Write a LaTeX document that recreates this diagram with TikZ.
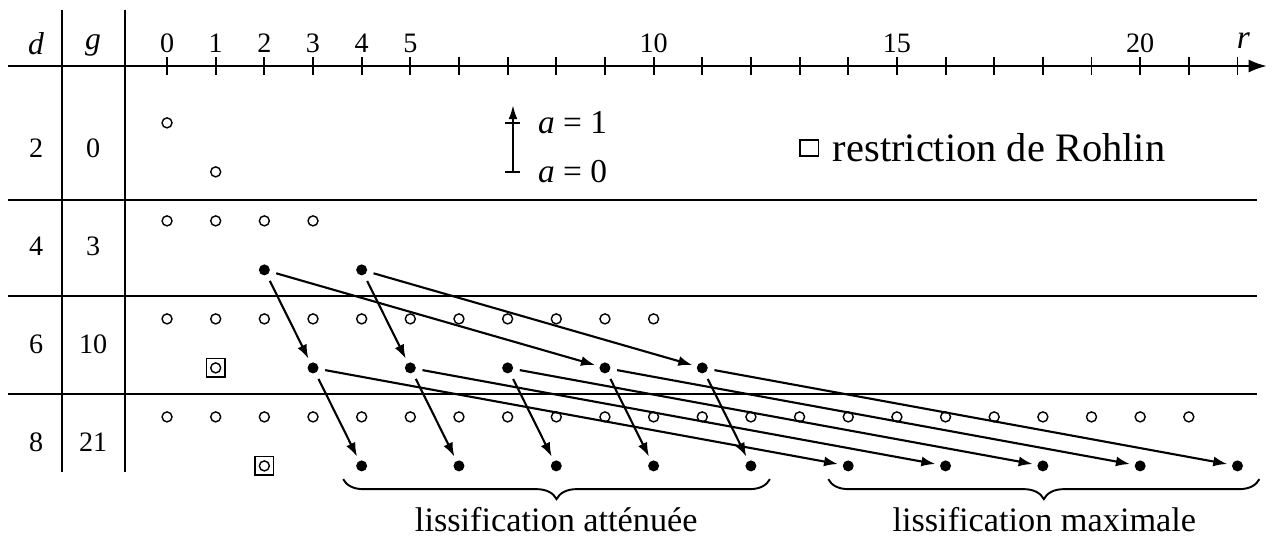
\documentclass[tikz,border=0pt]{standalone}
\usepackage{fontspec}
\setmainfont{Liberation Serif}
\usetikzlibrary{arrows.meta,positioning,decorations.pathreplacing}
\tikzset{
  odot/.style={circle, draw, line width=0.8pt, minimum size=0.2cm, inner sep=0pt},
  fdot/.style={circle, fill, minimum size=0.22cm, inner sep=0pt},
  rbox/.style={rectangle, draw, line width=0.8pt, minimum size=0.37cm, inner sep=0pt},
  rarrow/.style={-{Latex[length=2.8mm,width=2mm]}, line width=1.2pt, shorten <=0.13cm, shorten >=0.09cm},
  rline/.style={line width=1.1pt},
  rlabel/.style={font=\fontsize{16}{18}\selectfont},
  rbrace/.style={decorate, decoration={brace, mirror, amplitude=0.4cm}, line width=1.1pt},
  rtext/.style={font=\fontsize{19.5}{22}\selectfont, anchor=base, inner sep=0pt}
}

\begin{document}
\begin{tikzpicture}[x=0.973cm, y=0.98cm]
\useasboundingbox (-3.433,1.347) rectangle (22.73,-9.673);
% table frame
\draw[rline] (-2.158,1.143) -- (-2.158,-8.286);
\draw[rline] (-0.863,1.143) -- (-0.863,-8.286);
\foreach \y in {-2.73,-4.69,-6.69}
  \draw[rline] (-3.27,\y) -- (22.4,\y);
% axis r
\draw[rline, -{Latex[length=3.6mm,width=2.6mm]}] (-3.27,0) -- (22.6,0);
\foreach \r in {0,...,22}
  \draw[rline] (\r,0.18) -- (\r,-0.18);
\foreach \r in {0,1,2,3,4,5,10,15,20}
  \node[rlabel] (t\r) at (\r,0.47) {\r};
\node[font=\fontsize{19}{21}\selectfont] (rr) at (22.12,0.52) {\textit{r}};
\node[font=\fontsize{18}{20}\selectfont] (hd) at (-2.69,0.45) {\textit{d}};
\node[font=\fontsize{18}{20}\selectfont] (hg) at (-1.52,0.42) {\textit{g}};
% rows d / g
\foreach \d/\g in {2/0,4/3,6/10,8/21}{
  \node[rlabel] (d\d) at (-2.69,{0.33-\d}) {\d};
  \node[rlabel] (g\d) at (-1.52,{0.33-\d}) {\g};
}
% open circles
\node[odot] (c2-0) at (0,-1.16) {};
\node[odot] (c2-1x) at (1,-2.16) {};
\foreach \d/\m in {4/3,6/10,8/21}
  \foreach \r in {0,...,\m}
    \node[odot] (c\d-\r) at (\r,{1-\d-0.16}) {};
% Rohlin
\node[odot] (q6) at (1,-6.16) {};
\node[rbox] (b6) at (q6) {};
\node[odot] (q8) at (2,-8.16) {};
\node[rbox] (b8) at (q8) {};
% filled dots
\foreach \r in {2,4}
  \node[fdot] (p4-\r) at (\r,-4.16) {};
\foreach \r in {3,5,...,11}
  \node[fdot] (p6-\r) at (\r,-6.16) {};
\foreach \r in {4,6,...,22}
  \node[fdot] (p8-\r) at (\r,-8.16) {};
% arrows
\foreach \r/\s in {2/9,4/11}{
  \pgfmathtruncatemacro\n{\r+1}
  \draw[rarrow] (p4-\r) -- (p6-\n);
  \draw[rarrow] (p4-\r) -- (p6-\s);
}
\foreach \r in {3,5,...,11}{
  \pgfmathtruncatemacro\n{\r+1}
  \pgfmathtruncatemacro\s{\r+11}
  \draw[rarrow] (p6-\r) -- (p8-\n);
  \draw[rarrow] (p6-\r) -- (p8-\s);
}
% legend
\coordinate (la0) at (7.11,-2.16);
\coordinate (la1) at (7.11,-1.16);
\coordinate (lat) at (7.11,-0.8);
\draw[rline, -{Latex[length=2.8mm,width=1.8mm]}] (la0) -- (lat);
\draw[rline] ([xshift=-0.15cm]la1) -- ([xshift=0.15cm]la1);
\draw[rline] ([xshift=-0.15cm]la0) -- ([xshift=0.15cm]la0);
\node[font=\fontsize{19}{21}\selectfont, anchor=west] (a1) at (7.5,-1.16) {\textit{a} = 1};
\node[font=\fontsize{19}{21}\selectfont, anchor=west] (a0) at (7.5,-2.16) {\textit{a} = 0};
\node[rbox, minimum width=0.37cm, minimum height=0.32cm] (lsq) at (13.2,-1.67) {};
\node[font=\fontsize{23}{26}\selectfont, right=0.15cm of lsq] (lrt) {restriction de Rohlin};
% braces
\draw[rbrace] (3.62,-8.43) -- (12.39,-8.43);
\draw[rbrace] (13.59,-8.43) -- (22.45,-8.43);
\node[rtext] (latt) at (8,-9.5) {lissification atténuée};
\node[rtext] (lmax) at (18.03,-9.5) {lissification maximale};
\end{tikzpicture}
\end{document}
